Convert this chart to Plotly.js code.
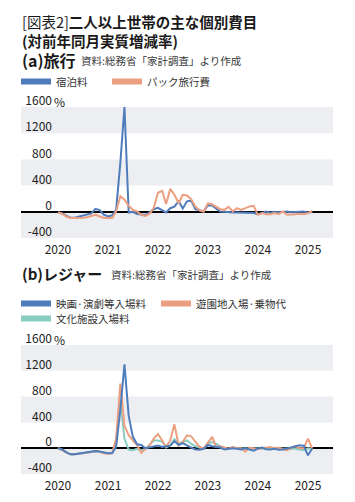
<!DOCTYPE html>
<html><head><meta charset="utf-8">
<script src="https://cdn.plot.ly/plotly-3.0.1.min.js"></script>
<style>html,body{margin:0;padding:0;background:#fff}#chart{width:355px;height:502px}</style>
</head><body><div id="chart"></div>
<script>
// Months 2020-01 .. 2025-02
const months = [];
for (let y = 2020; y <= 2025; y++) for (let m = 1; m <= 12; m++) { if (y === 2025 && m > 2) break; months.push(y + '-' + String(m).padStart(2, '0') + '-01'); }

const yearTicks = ['2020-01-01','2021-01-01','2022-01-01','2023-01-01','2024-01-01','2025-01-01'];
const yearLabels = ['2020','2021','2022','2023','2024','2025'];
const yTickVals = [-400, 0, 400, 800, 1200, 1600];
const yTickText = ['-400', '0', '400', '800', '1200', '1600'];

// (a) 旅行
const lodging = [-5,-25,-60,-90,-92,-78,-55,-50,-25,45, 25,-45,-70,-55,30,750,1600,-10,0,-35, -40,-50,-10,40,60,20,-10,55,80,160, 50,160,170,40,20,5,100,95,50,5, 0,-10,-10,-10,-10,-15,-20,-20,-35,-10, 5,-15,0,-5,0,5,-5,-5,0,5, -15,0];
const packageTour = [-10,-30,-72,-95,-95,-95,-92,-82,-62,-46,-72,-95,-95,-95,5,236,185,92,30,5,-46,-62, -30,60,290,320,120,350,260,130,260,250,190,80,20,0,130,115,80,40,30,75, 5,56,30,56,82,92,-46,-20,-36,-36,-20,-36,5,-46,-36,-36,-30,-36,-20,15];

// (b) レジャー
const movieTheater = [0,-20,-60,-95,-95,-85,-75,-70,-55,-45,-50,-70,-80,-75,20,600,1300,500,180,60,50,0, 10,25,40,20,30,40,110,50,80,40,10,-20,-25,-10,50,30,20,10,-20,-5, 0,-10,-20,0,-20,-40,-5,10,-15,-20,-10,-25,-20,-10,10,30,45,40,-110,-5];
const amusement = [0,-30,-70,-95,-95,-90,-80,-70,-60,-45,-55,-80,-85,-80,150,1000,350,200,120,50,-70,-10, 45,150,220,120,20,120,370,45,100,200,185,100,20,-5,80,175,20,30,10,-10, 20,0,0,-55,10,0,-15,0,15,20,0,10,-15,-30,0,30,0,0,150,-5];
const culture = [0,-25,-70,-95,-95,-90,-75,-65,-55,-50,-55,-70,-75,-70,100,720,150,-20,-30,-10,-30,-10, 60,120,120,100,10,45,140,70,95,120,70,30,10,-5,70,95,70,30,-5,-10, 10,0,0,-10,-10,0,0,-5,-10,0,-10,0,-10,0,0,-10,-20,-30,0,-10];

const BLUE = '#4f7dbc', ORANGE = '#eb9f80', TEAL = '#88cdc0', BAND = '#eceef1';
const FONT = '"Noto Sans CJK JP", "Noto Sans", sans-serif';

function line(y, color, name, xa, ya) {
  return {x: months, y: y, type: 'scatter', mode: 'lines', name: name, xaxis: xa, yaxis: ya,
    line: {color: color, width: 2}, showlegend: false, hoverinfo: 'skip'};
}
function legendItem(color, name, legend) {
  return {x: [null], y: [null], type: 'scatter', mode: 'lines', name: name, legend: legend,
    line: {color: color, width: 6}, showlegend: true, hoverinfo: 'skip'};
}

const data = [
  line(lodging, BLUE, '宿泊料', 'x', 'y'),
  line(packageTour, ORANGE, 'パック旅行費', 'x', 'y'),
  line(culture, TEAL, '文化施設入場料', 'x2', 'y2'),
  line(amusement, ORANGE, '遊園地入場·乗物代', 'x2', 'y2'),
  line(movieTheater, BLUE, '映画·演劇等入場料', 'x2', 'y2'),
  legendItem(BLUE, '宿泊料', 'legend'),
  legendItem(ORANGE, 'パック旅行費', 'legend2'),
  legendItem(BLUE, '映画·演劇等入場料', 'legend3'),
  legendItem(ORANGE, '遊園地入場·乗物代', 'legend4'),
  legendItem(TEAL, '文化施設入場料', 'legend5')
];

const W = 355, H = 502;
const xDom = [21 / W, 333 / W];
const y1Dom = [1 - 238 / H, 1 - 107 / H];
const y2Dom = [1 - 474 / H, 1 - 345 / H];
const xRange = ['2019-04-06', '2025-07-03'];

function xaxis(domain, anchor) {
  return {domain: domain, anchor: anchor, type: 'date', range: xRange, tickmode: 'array',
    tickvals: yearTicks, ticktext: yearLabels, ticks: '', showgrid: false, zeroline: false,
    showline: false, fixedrange: true, ticklabelstandoff: 3,
    tickfont: {size: 12, color: '#222', family: FONT}};
}
function yaxis(domain) {
  return {domain: domain, anchor: 'free', position: 52 / W, range: [-400, 1600], tickmode: 'array',
    tickvals: yTickVals, ticktext: yTickText, ticks: '', showgrid: false, zeroline: true,
    zerolinecolor: '#000', zerolinewidth: 1.5, showline: false, fixedrange: true,
    ticklabelshift: -6, tickfont: {size: 12, color: '#222', family: FONT}};
}

function bands(ya) {
  const xr = ya === 'y' ? 'x domain' : 'x2 domain';
  return [[1200, 1600], [400, 800], [-400, 0]].map(b => ({type: 'rect', xref: xr, yref: ya,
    x0: 0, x1: 1, y0: b[0], y1: b[1], fillcolor: BAND, line: {width: 0}, layer: 'below'}));
}

function ann(text, xpx, ypx, size, opts) {
  return Object.assign({text: text, xref: 'paper', yref: 'paper', x: xpx / W, y: 1 - ypx / H,
    xanchor: 'left', yanchor: 'middle', showarrow: false, align: 'left',
    font: {size: size, color: '#1a1a1a', family: FONT}}, opts || {});
}
const srcFont = {size: 10.5, color: '#3a3a3a', family: FONT};

const annotations = [
  ann('[図表2]<b>二人以上世帯の主な個別費目</b><br><b>(対前年同月実質増減率)</b>', 20, 31, 14.5),
  ann('<b>(a)旅行</b>', 20, 60, 16),
  ann('資料:総務省「家計調査」より作成', 79, 60, 10.5, {font: srcFont}),
  ann('<b>(b)レジャー</b>', 20, 273, 15),
  ann('資料:総務省「家計調査」より作成', 109, 274, 10.5, {font: srcFont}),
  {text: '%', xref: 'paper', yref: 'y', x: 52 / W, y: 1600, yshift: 6, xanchor: 'left', yanchor: 'middle',
    showarrow: false, font: {size: 12, color: '#222', family: FONT}},
  {text: '%', xref: 'paper', yref: 'y2', x: 52 / W, y: 1600, yshift: 6, xanchor: 'left', yanchor: 'middle',
    showarrow: false, font: {size: 12, color: '#222', family: FONT}}
];

function legendBox(xpx, ypx) {
  return {orientation: 'h', x: xpx / W, y: 1 - ypx / H, xanchor: 'left', yanchor: 'top',
    bgcolor: 'rgba(0,0,0,0)', borderwidth: 0,
    font: {size: 10.5, color: '#333', family: FONT}};
}

const layout = {
  width: W, height: H, margin: {l: 0, r: 0, t: 0, b: 0},
  paper_bgcolor: '#fff', plot_bgcolor: 'rgba(0,0,0,0)',
  font: {family: FONT, color: '#1a1a1a'},
  xaxis: xaxis(xDom, 'y'),
  yaxis: yaxis(y1Dom),
  xaxis2: xaxis(xDom, 'y2'),
  yaxis2: yaxis(y2Dom),
  shapes: bands('y').concat(bands('y2')),
  annotations: annotations,
  legend: legendBox(16, 67),
  legend2: legendBox(107, 67),
  legend3: legendBox(16, 289),
  legend4: legendBox(156, 289),
  legend5: legendBox(16, 304),
  showlegend: true
};

Plotly.newPlot('chart', data, layout, {displayModeBar: false, staticPlot: true});
</script></body></html>
